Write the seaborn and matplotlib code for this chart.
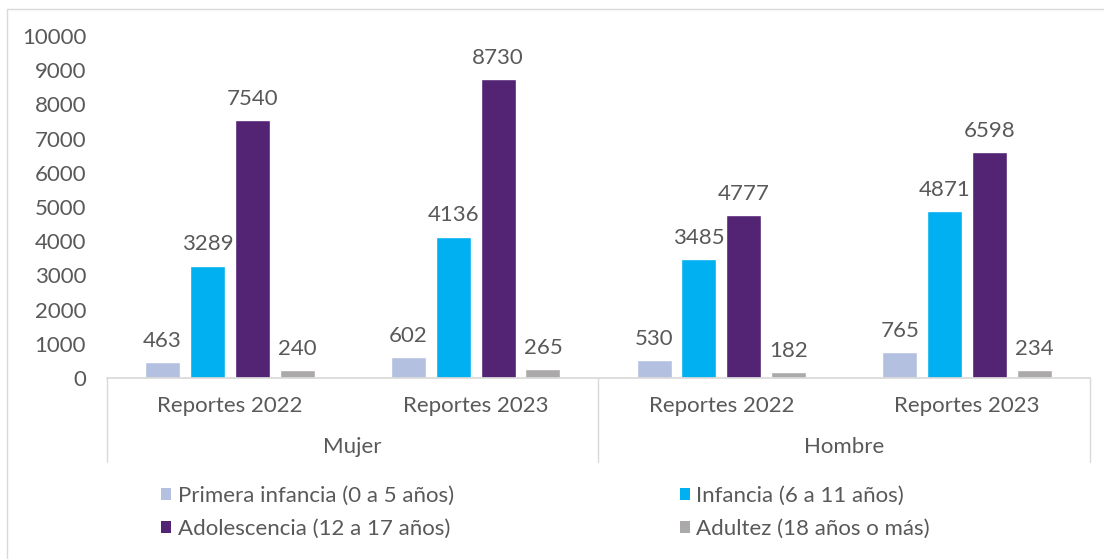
import matplotlib
matplotlib.use("Agg")
import matplotlib.pyplot as plt
from matplotlib.lines import Line2D
from matplotlib.patches import Patch
import seaborn as sns
import pandas as pd

generos = ["Mujer", "Hombre"]
reportes = ["Reportes 2022", "Reportes 2023"]
grupos = ["Primera infancia (0 a 5 años)", "Infancia (6 a 11 años)",
          "Adolescencia (12 a 17 años)", "Adultez (18 años o más)"]
# one list per age group, order: Mujer 2022, Mujer 2023, Hombre 2022, Hombre 2023
primera_infancia = [463, 602, 530, 765]
infancia = [3289, 4136, 3485, 4871]
adolescencia = [7540, 8730, 4777, 6598]
adultez = [240, 265, 182, 234]
colores = ["#B4C0E0", "#00B0F0", "#532374", "#ABA9AA"]

sns.set_theme(style="white")
plt.rcParams["font.family"] = ["Lato", "DejaVu Sans"]
gris = "#595959"
fs = 16

cats = [g + "|" + r for g in generos for r in reportes]
filas = []
for grupo, vals in zip(grupos, [primera_infancia, infancia, adolescencia, adultez]):
    for c, v in zip(cats, vals):
        filas.append({"cat": c, "grupo": grupo, "valor": v})
df = pd.DataFrame(filas)

fig = plt.figure(figsize=(11.04, 5.59), dpi=100)
ax = fig.add_axes([0.0969, 0.3238, 0.8904, 0.6118])

sns.barplot(data=df, x="cat", y="valor", hue="grupo", order=cats, hue_order=grupos,
            palette=colores, width=0.73, gap=0.22, ax=ax, legend=False, saturation=1)

for cont in ax.containers:
    ax.bar_label(cont, fmt="%d", padding=8, fontsize=fs, color=gris)

ax.set_ylim(0, 10000)
ax.set_yticks(range(0, 10001, 1000))
ax.tick_params(axis="y", labelsize=fs, labelcolor=gris, length=0, pad=15)
ax.set_xticks(range(4))
ax.set_xticklabels([c.split("|")[1] for c in cats])
ax.tick_params(axis="x", labelsize=fs, labelcolor=gris, length=0, pad=13)
ax.set_xlim(-0.5, 3.5)
ax.set_xlabel("")
ax.set_ylabel("")
for s in ["top", "right", "left"]:
    ax.spines[s].set_visible(False)
ax.spines["bottom"].set_color("#D9D9D9")

# group labels and dividers under the axis
trans = ax.get_xaxis_transform()
for i, g in enumerate(generos):
    ax.text(i * 2 + 0.5, -0.203, g, transform=trans, ha="center", va="center",
            fontsize=fs, color=gris)
for xv in [-0.5, 1.5, 3.5]:
    ax.add_line(Line2D([xv, xv], [0, -0.246], transform=trans, color="#D9D9D9",
                       lw=1, clip_on=False))

# legend filled row by row like the original
orden = [0, 2, 1, 3]
handles = [Patch(facecolor=colores[i], edgecolor="none") for i in orden]
etiquetas = [grupos[i] for i in orden]
leg = fig.legend(handles, etiquetas, loc="upper left", bbox_to_anchor=(0.128, 0.167),
                 ncol=2, frameon=False, fontsize=fs,
                 labelcolor=gris, handlelength=0.45, handleheight=0.45, handletextpad=0.3,
                 columnspacing=10.15, labelspacing=0.6)

# outer chart border
fig.add_artist(Line2D([0.0063, 0.0063, 1.0], [0.0, 0.984, 0.984],
                      transform=fig.transFigure, color="#D9D9D9", lw=1))

fig.savefig("out.png", dpi=100)
